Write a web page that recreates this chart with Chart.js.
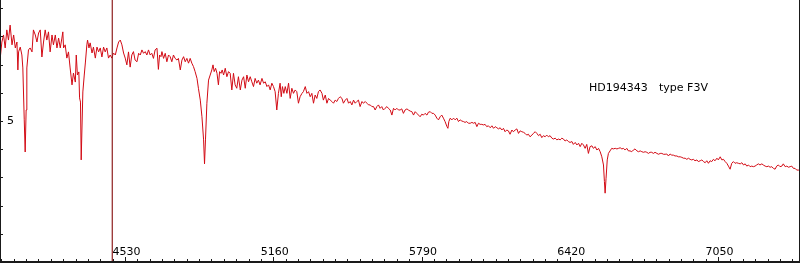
<!DOCTYPE html>
<html>
<head>
<meta charset="utf-8">
<script src="https://cdn.jsdelivr.net/npm/chart.js@4/dist/chart.umd.min.js"></script>
<style>
  html, body { margin: 0; padding: 0; background: #fff; }
  #wrap { width: 800px; height: 263px; }
</style>
</head>
<body>
<div id="wrap"><canvas id="spectre"></canvas></div>
<script>
'use strict';

// Spectre HD194343 (F3V) — longueur d'onde (Å) / flux relatif
const wavelengths = [
  4000,4007,4014,4021,4028,4035,4042,4050,4057,4064,4071,4075,4078,4085,4092,4096,4102,4106,4110,4113,
  4120,4127,4135,4141,4149,4156,4163,4170,4177,4184,4191,4198,4205,4212,4220,4226,4234,4241,4248,4255,
  4262,4266,4269,4276,4283,4290,4297,4305,4311,4319,4323,4328,4334,4337,4341,4344,4351,4357,4362,4368,
  4371,4377,4382,4390,4396,4404,4411,4418,4425,4432,4439,4446,4453,4460,4467,4474,4481,4489,4496,4503,
  4510,4517,4524,4531,4538,4545,4552,
  4559,4566,4573,4581,4588,4595,4602,4609,4616,4623,4630,4637,4644,4651,4658,4666,4672,4677,4683,4687,
  4694,4701,4708,4715,4722,4729,4736,4743,4751,4757,4765,4772,4779,4786,4793,4800,4807,4814,4821,4828,
  4836,4842,4850,4857,4864,4868,4872,4878,4885,4892,4899,4904,4909,4915,4921,4927,4932,4938,4943,4949,
  4956,4963,4970,4977,4984,4991,4998,5005,5012,5020,5027,5034,5041,5048,5055,5062,5069,5076,5083,5090,
  5097,5104,5112,5119,
  5126,5133,5140,5147,5154,5161,5168,5175,5182,5189,5194,5199,5205,5211,5218,5225,5232,5239,5246,5253,
  5260,5267,5274,5282,5288,5296,5303,5310,5317,5324,5331,5338,5345,5352,5359,5367,5373,5381,5388,5395,
  5402,5409,5416,5423,5430,5437,5444,5452,5458,5466,5473,5480,5487,5494,5501,5508,5515,5522,5529,5537,
  5543,5551,5558,5565,5572,5579,5586,5593,5600,5607,5614,5621,5628,5635,5643,5649,5657,5664,5671,5678,
  5685,5692,
  5699,5706,5713,5720,5728,5734,5742,5749,5756,5763,5770,5777,5784,5791,5798,5805,5813,5819,5827,5834,
  5841,5848,5855,5862,5869,5876,5883,5890,5898,5902,5906,5912,5919,5926,5933,5940,5947,5954,5961,5968,
  5975,5982,5989,5997,6004,6011,6018,6025,6032,6039,6046,6053,6060,6067,6074,6082,6089,6096,6103,6110,
  6117,6124,6131,6138,6145,6152,6159,6166,6174,6180,6188,6195,6202,6209,6216,6223,6230,6237,6244,6251,
  6259,6265,
  6273,6280,6287,6294,6301,6308,6315,6322,6329,6336,6344,6350,6358,6365,6372,6379,6386,6393,6400,6407,
  6414,6421,6429,6435,6443,6450,6457,6464,6471,6478,6485,6492,6499,6506,6514,6520,6528,6535,6542,6549,
  6556,6563,6567,6570,6574,6579,6584,6591,6598,6605,6613,6620,6627,6634,6641,6648,6655,6662,6669,6676,
  6683,6690,6697,6705,6712,6719,6726,6733,6740,6747,6754,6761,6768,6775,6782,6790,6797,6804,6811,6818,
  6825,
  6832,6839,6846,6853,6860,6867,6875,6881,6889,6896,6903,6910,6917,6924,6931,6938,6945,6952,6960,6966,
  6974,6981,6988,6995,7002,7009,7016,7023,7030,7037,7045,7051,7059,7066,7073,7080,7087,7094,7101,7108,
  7115,7122,7129,7136,7144,7151,7158,7165,7172,7179,7186,7193,7200,7207,7214,7221,7228,7236,7242,7250,
  7257,7264,7271,7278,7285,7292,7299,7306,7313,7321,7327,7335,7342,7349,7356,7363,7370,7377,7384,7391,
  7398
];

const flux = [
  7.23,7.80,8.05,7.59,8.23,7.87,8.40,7.70,8.05,7.59,7.80,6.81,7.45,7.62,7.34,6.88,5.04,3.90,5.39,6.88,
  7.52,7.59,7.45,8.23,8.05,7.80,8.12,8.23,7.27,7.80,8.23,7.87,8.16,7.45,8.05,7.70,8.05,7.59,7.94,7.59,
  7.94,8.16,7.59,7.70,7.23,7.45,6.88,6.28,6.70,6.38,7.34,6.63,6.74,5.82,5.67,3.62,6.03,6.63,7.09,7.70,
  7.87,7.59,7.77,7.41,7.62,7.23,7.62,7.45,7.59,7.27,7.62,7.45,7.59,7.23,7.34,7.23,7.41,7.34,7.59,7.80,
  7.87,7.70,7.41,7.23,6.99,7.45,6.91,
  7.34,7.46,7.16,7.10,7.40,7.34,7.52,7.40,7.46,7.34,7.52,7.34,7.40,7.22,7.52,7.58,6.83,7.34,7.28,7.46,
  7.22,7.40,7.10,7.34,7.28,7.10,7.34,7.22,7.16,7.22,6.81,7.16,7.28,7.10,7.22,7.05,7.22,7.05,6.93,6.75,
  6.51,6.16,5.74,5.15,4.33,3.48,4.33,5.63,6.45,6.63,6.81,6.99,6.75,6.87,6.69,6.28,6.75,6.69,6.81,6.63,
  6.87,6.57,6.75,6.69,6.10,6.69,6.28,6.16,6.57,6.10,6.45,6.57,6.16,6.63,6.39,6.57,6.39,6.22,6.51,6.34,
  6.45,6.28,6.51,6.34,
  6.39,6.22,6.28,6.10,6.34,6.22,6.04,5.39,5.98,6.34,5.86,6.22,5.98,6.22,5.98,6.34,5.80,6.16,5.98,6.10,
  6.04,5.63,5.86,5.98,6.04,6.22,5.98,6.04,5.86,5.98,5.63,5.92,5.80,6.04,6.10,5.98,5.74,5.92,5.63,5.80,
  5.74,5.69,5.63,5.74,5.69,5.80,5.86,5.80,5.63,5.74,5.80,5.63,5.69,5.57,5.74,5.63,5.69,5.74,5.51,5.69,
  5.63,5.69,5.63,5.57,5.57,5.51,5.51,5.39,5.51,5.57,5.45,5.51,5.39,5.45,5.51,5.45,5.39,5.21,5.45,5.39,
  5.45,5.39,
  5.39,5.43,5.27,5.39,5.43,5.39,5.35,5.33,5.21,5.33,5.27,5.21,5.15,5.24,5.21,5.27,5.21,5.31,5.33,5.27,
  5.27,5.21,5.10,5.04,5.15,5.21,5.10,4.98,4.80,4.74,4.98,5.10,5.04,5.10,5.04,5.10,4.98,5.04,5.00,4.98,
  4.95,4.98,4.92,4.92,4.95,4.92,4.95,4.80,4.92,4.88,4.88,4.86,4.88,4.80,4.83,4.76,4.83,4.74,4.80,4.76,
  4.72,4.76,4.68,4.74,4.62,4.68,4.65,4.53,4.68,4.62,4.68,4.72,4.56,4.65,4.62,4.60,4.56,4.50,4.53,4.44,
  4.50,4.56,
  4.62,4.56,4.48,4.53,4.41,4.48,4.44,4.50,4.44,4.48,4.39,4.36,4.39,4.33,4.36,4.33,4.39,4.36,4.29,4.33,
  4.27,4.24,4.27,4.17,4.24,4.15,4.21,4.09,4.21,4.15,4.03,4.17,3.85,4.09,4.12,4.03,4.09,3.97,4.03,3.91,
  3.73,3.44,2.85,2.44,2.97,3.62,3.85,3.94,4.03,4.01,4.03,4.01,4.03,4.05,4.01,4.03,3.97,4.03,3.94,3.94,
  3.91,3.97,4.01,3.94,3.91,3.94,3.91,3.89,3.91,3.89,3.85,3.89,3.89,3.85,3.89,3.85,3.82,3.85,3.85,3.82,
  3.82,
  3.83,3.76,3.83,3.79,3.79,3.76,3.76,3.73,3.73,3.71,3.68,3.68,3.64,3.68,3.64,3.62,3.64,3.59,3.62,3.56,
  3.59,3.62,3.56,3.52,3.59,3.50,3.59,3.56,3.64,3.59,3.68,3.62,3.73,3.62,3.64,3.56,3.50,3.40,3.29,3.50,
  3.56,3.50,3.52,3.50,3.48,3.52,3.44,3.48,3.40,3.44,3.38,3.40,3.38,3.40,3.44,3.48,3.44,3.48,3.44,3.40,
  3.38,3.40,3.36,3.38,3.32,3.29,3.40,3.44,3.38,3.40,3.48,3.38,3.40,3.36,3.38,3.40,3.32,3.32,3.26,3.26,
  3.24
];

const xRange = [3999, 7398];
const yRange = [0, 9.29];
const xMajorTicks = [4530, 5160, 5790, 6420, 7050];
const xMinorStep = 52.5;
const yTicks = [1, 2, 3, 4, 5, 6, 7, 8, 9];
const yLabelled = [5];
const cursorLambda = 4476;
const starName = 'HD194343';
const starType = 'type F3V';

const LINE_RED = '#d20a14';
const CURSOR_RED = '#8e1f1f';
const AXIS = '#1a1a1a';
const FONT = '11px "DejaVu Sans", Verdana, sans-serif';

/* ========================================================
   Cadre, graduations et étiquettes (dessinés dans la zone)
   ======================================================== */
const framePlugin = {
  id: 'frame',
  afterDatasetsDraw(chart) {
    const { ctx, chartArea: a, scales: { x, y } } = chart;
    ctx.save();
    ctx.strokeStyle = AXIS;
    ctx.fillStyle = '#000';
    ctx.lineWidth = 1;

    // cadre
    ctx.beginPath();
    ctx.moveTo(a.left + 0.5, a.top);
    ctx.lineTo(a.left + 0.5, a.bottom);
    ctx.moveTo(a.right - 0.5, a.top);
    ctx.lineTo(a.right - 0.5, a.bottom);
    ctx.stroke();
    ctx.fillStyle = AXIS;
    ctx.fillRect(a.left, a.bottom - 1, a.right - a.left, 2);

    // graduations X
    const first = xMajorTicks[0];
    ctx.beginPath();
    for (let v = first - Math.floor((first - xRange[0]) / xMinorStep) * xMinorStep; v <= xRange[1]; v += xMinorStep) {
      const px = Math.round(x.getPixelForValue(v)) + 0.5;
      const major = xMajorTicks.some(m => Math.abs(m - v) < 1);
      ctx.moveTo(px, a.bottom - 1);
      ctx.lineTo(px, a.bottom - (major ? 5 : 3));
    }
    // graduations Y
    yTicks.forEach(v => {
      const py = Math.round(y.getPixelForValue(v)) + 0.5;
      ctx.moveTo(a.left, py);
      ctx.lineTo(a.left + 3, py);
    });
    ctx.stroke();

    ctx.fillStyle = '#000';
    ctx.font = FONT;
    ctx.textAlign = 'center';
    ctx.textBaseline = 'alphabetic';
    xMajorTicks.forEach(v => {
      ctx.fillText(String(v), x.getPixelForValue(v) + 1.5, a.bottom - 7);
    });
    ctx.textAlign = 'left';
    ctx.textBaseline = 'middle';
    yLabelled.forEach(v => ctx.fillText(String(v), a.left + 7, y.getPixelForValue(v)));

    // titre de l'étoile
    ctx.textBaseline = 'alphabetic';
    ctx.fillText(starName, 589, 91);
    ctx.fillText(starType, 659, 91);
    ctx.restore();
  }
};

const spectrum = wavelengths.map((w, i) => ({ x: w, y: flux[i] }));

new Chart(document.getElementById('spectre'), {
  type: 'line',
  data: {
    datasets: [
      {
        label: 'Curseur',
        data: [{ x: cursorLambda, y: yRange[0] }, { x: cursorLambda, y: yRange[1] }],
        borderColor: CURSOR_RED,
        borderWidth: 1.2,
        pointRadius: 0,
      },
      {
        label: starName,
        data: spectrum,
        borderColor: LINE_RED,
        borderWidth: 1,
        pointRadius: 0,
        tension: 0,
      }
    ]
  },
  options: {
    responsive: true,
    maintainAspectRatio: false,
    animation: false,
    parsing: true,
    layout: { padding: { left: 0, right: 0, top: 0, bottom: 1 } },
    plugins: { legend: { display: false }, tooltip: { enabled: false } },
    scales: {
      x: { type: 'linear', min: xRange[0], max: xRange[1], display: false },
      y: { type: 'linear', min: yRange[0], max: yRange[1], display: false }
    }
  },
  plugins: [framePlugin]
});
</script>
</body>
</html>
